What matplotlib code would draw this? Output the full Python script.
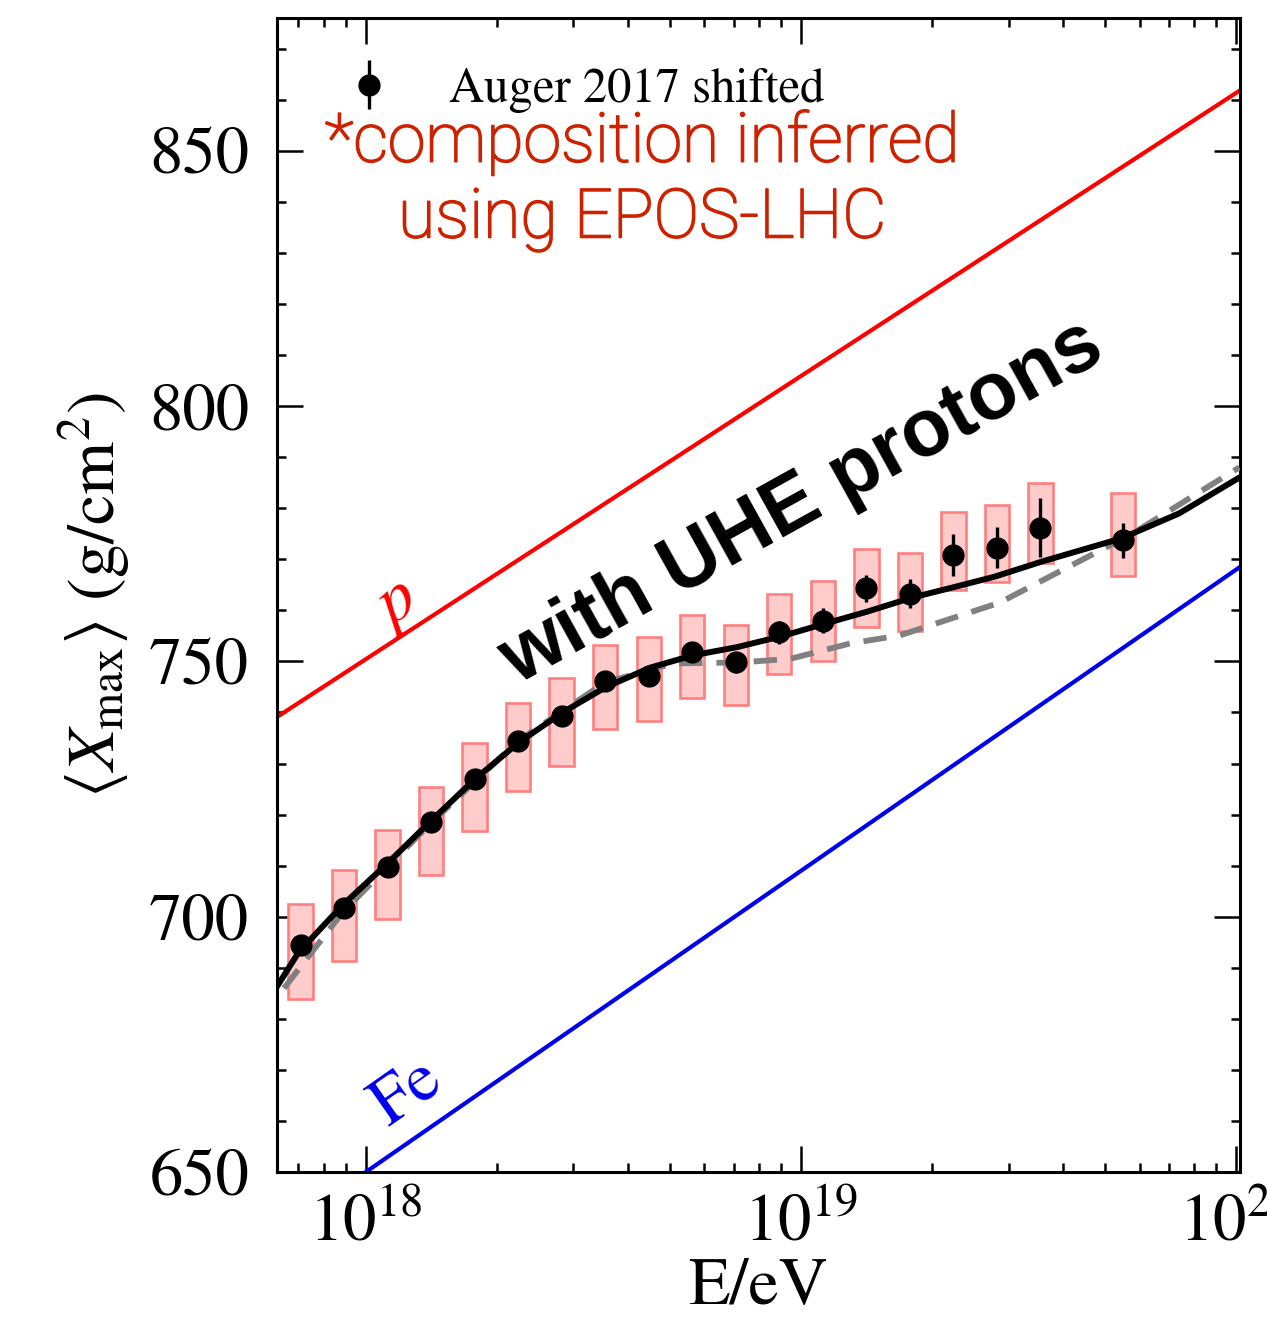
import numpy as np
import matplotlib
matplotlib.use('Agg')
import matplotlib.pyplot as plt
import matplotlib.patheffects as pe
from matplotlib.ticker import LogLocator, MultipleLocator

plt.rcParams['font.family'] = 'STIXGeneral'
plt.rcParams['mathtext.fontset'] = 'stix'

# Auger 2017 (shifted) data, log10(E/eV) and <Xmax> in g/cm^2
lgE_data = [17.85, 17.95, 18.05, 18.15, 18.25, 18.35, 18.45, 18.55, 18.65, 18.75,
            18.85, 18.95, 19.05, 19.15, 19.25, 19.35, 19.45, 19.55, 19.74]
xmax_data = [694.4, 701.7, 709.7, 718.5, 726.9, 734.5, 739.4, 746.1, 747.2, 751.8,
             749.8, 755.7, 758.0, 764.3, 763.3, 770.9, 772.3, 776.2, 773.7]
stat_err = [1.0, 1.0, 1.0, 1.1, 1.2, 1.3, 1.4, 1.5, 1.7, 1.9,
            2.0, 2.2, 2.4, 2.6, 2.9, 4.1, 4.0, 5.8, 3.4]
sys_up = [8.0, 7.4, 7.2, 7.0, 7.1, 7.3, 7.3, 7.2, 7.5, 7.2,
          7.4, 7.6, 7.7, 7.8, 8.0, 8.3, 8.4, 8.8, 9.3]
sys_lo = [10.5, 10.4, 10.2, 10.4, 10.2, 9.9, 9.8, 9.4, 8.9, 9.0,
          8.4, 8.2, 8.0, 7.6, 7.4, 7.0, 6.8, 7.0, 6.9]

# model with UHE protons (solid) and alternative (dashed)
lgE_model = [17.798, 17.846, 17.947, 18.048, 18.149, 18.25, 18.351, 18.452, 18.55, 18.654,
             18.752, 18.853, 18.954, 19.055, 19.154, 19.255, 19.349, 19.445, 19.555, 19.736,
             19.869, 20.007]
xmax_model = [686.6, 693.1, 702.3, 710.3, 718.7, 726.9, 734.1, 740.0, 744.9, 748.8,
              751.2, 752.8, 754.9, 757.4, 759.8, 762.5, 764.5, 766.6, 769.6, 774.1,
              779.0, 786.0]
lgE_alt = [17.812, 17.947, 18.149, 18.351, 18.55, 18.706, 18.86, 18.975, 19.112, 19.227,
           19.456, 19.761, 20.007]
xmax_alt = [686.0, 700.9, 718.3, 734.5, 745.9, 749.6, 749.8, 750.5, 753.5, 755.1,
            761.5, 775.0, 788.0]

# pure proton and iron expectations (EPOS-LHC)
lgE_pure = [17.7, 20.1]
xmax_p = [733.8, 866.9]
xmax_fe = [632.3, 773.9]

E_data = 10.0 ** np.array(lgE_data)
box_hw = 0.028
box_left = E_data * 10 ** (-box_hw)
box_width = E_data * (10 ** box_hw - 10 ** (-box_hw))
box_bottom = np.array(xmax_data) - np.array(sys_lo)
box_height = np.array(sys_up) + np.array(sys_lo)

fig = plt.figure(figsize=(12.67, 13.26), dpi=100)
ax = fig.add_axes([0.2186, 0.1161, 0.7601, 0.8703])

ax.plot(10.0 ** np.array(lgE_pure), xmax_p, color='#ff0000', lw=3.0, zorder=2)
ax.plot(10.0 ** np.array(lgE_pure), xmax_fe, color='#0000ee', lw=3.0, zorder=2)

ax.bar(box_left, box_height, width=box_width, bottom=box_bottom, align='edge',
       facecolor='#ffcccc', edgecolor='#ff7f7f', linewidth=1.9, zorder=3)

ax.plot(10.0 ** np.array(lgE_alt), xmax_alt, color='#808080', lw=4.2,
        dashes=(4.0, 2.4), zorder=4)
ax.plot(10.0 ** np.array(lgE_model), xmax_model, color='black', lw=4.3, zorder=5)

ax.errorbar(E_data, xmax_data, yerr=stat_err, fmt='o', color='black', ms=15,
            elinewidth=2.4, capsize=0, zorder=6, label='Auger 2017 shifted')

ax.set_xscale('log')
ax.set_xlim(6.25e17, 1.02e20)
ax.set_ylim(650, 876)

ax.xaxis.set_major_locator(LogLocator(base=10, numticks=10))
ax.xaxis.set_minor_locator(LogLocator(base=10, subs=np.arange(2, 10), numticks=20))
ax.yaxis.set_major_locator(MultipleLocator(50))
ax.yaxis.set_minor_locator(MultipleLocator(10))

ax.tick_params(which='both', direction='in', top=True, right=True, width=1.8)
ax.tick_params(which='major', length=19, labelsize=48)
ax.tick_params(axis='y', which='major', pad=20)
ax.tick_params(axis='x', which='major', pad=16)
ax.tick_params(which='minor', length=6.5)
for s in ax.spines.values():
    s.set_linewidth(2.2)

ax.set_xlabel('E/eV', fontsize=49, labelpad=2)
ax.set_ylabel(r'$\langle X_{\rm max}\rangle$ (g/cm$^2$)', fontsize=49, labelpad=12)

leg = ax.legend(loc='upper left', bbox_to_anchor=(0.02, 0.995), frameon=False,
                fontsize=35, handlelength=1.2, handletextpad=1.05)

red_txt = '#cc2200'
ax.text(0.379, 0.859, '*composition inferred\nusing EPOS-LHC', transform=ax.transAxes,
        ha='center', va='center', multialignment='center', fontsize=49,
        color=red_txt, family='Roboto', fontweight='light', linespacing=1.2,
        path_effects=[pe.withStroke(linewidth=1.3, foreground=red_txt)])

ax.text(1.005e19, 781, 'with UHE protons', ha='center', va='center', rotation=29,
        rotation_mode='anchor', fontsize=58, fontweight='bold',
        family=['Liberation Sans', 'DejaVu Sans'], color='black', zorder=7)

ax.text(10 ** 18.069, 761, r'$p$', ha='center', va='center', rotation=33,
        fontsize=50, color='#ff0000')
ax.text(10 ** 18.096, 665.5, 'Fe', ha='center', va='center', rotation=35,
        fontsize=50, color='#0000ee')

fig.savefig('out.png', dpi=100)
